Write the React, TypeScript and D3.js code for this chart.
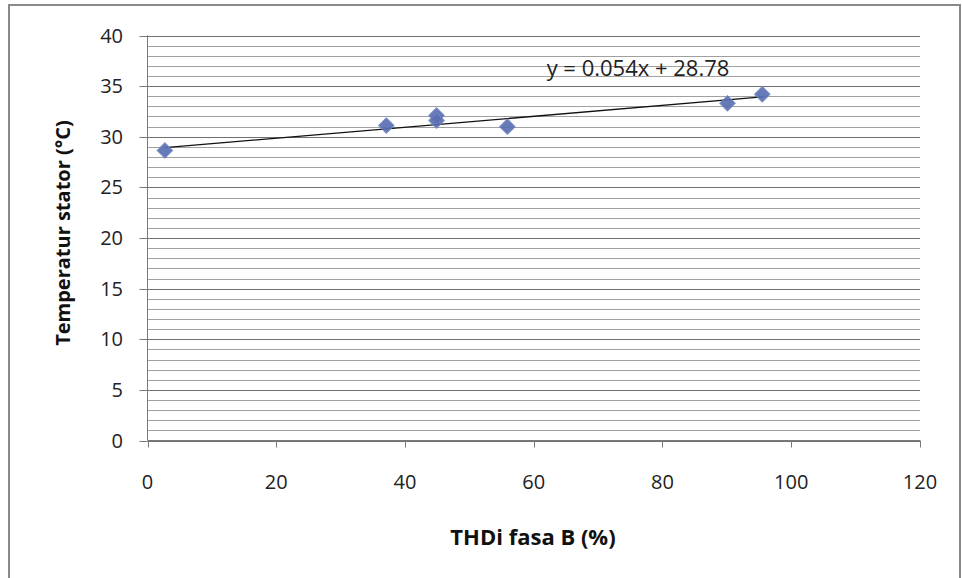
import React from "react";
import * as d3 from "d3";

const thdB: number[] = [2.7, 37.1, 44.9, 44.9, 55.9, 90.1, 95.5];
const tempStator: number[] = [28.65, 31.1, 32.1, 31.6, 31.0, 33.3, 34.2];
const xTicks: number[] = [0, 20, 40, 60, 80, 100, 120];
const yTicks: number[] = [0, 5, 10, 15, 20, 25, 30, 35, 40];
const slope = 0.054;
const intercept = 28.78;
const equationLabel = "y = 0.054x + 28.78";
const xTitle = "THDi fasa B (%)";
const yTitle = "Temperatur stator (°C)";

export default function App() {
  const W = 962, H = 578;
  const left = 147.5, right = 920, top = 35.5, bottom = 440.5;
  const x = d3.scaleLinear().domain([0, 120]).range([left, right]);
  const y = d3.scaleLinear().domain([0, 40]).range([bottom, top]);
  const minor = d3.range(0, 41, 1);
  const font = "'Open Sans', 'Noto Sans', sans-serif";
  const xMin = d3.min(thdB) as number;
  const xMax = d3.max(thdB) as number;
  const line = d3.line<number>().x((d) => x(d)).y((d) => y(slope * d + intercept));
  const marker = d3.symbol().type(d3.symbolSquare).size(120)();

  return (
    <svg width={W} height={H} style={{ position: "absolute", left: 0, top: 0, background: "#fff" }}>
      <rect x={9} y={5} width={951} height={H} fill="#fff" stroke="#8a8a8a" strokeWidth={2} />
      {minor.map((v) => (
        <line key={v} x1={left} x2={right} y1={Math.round(y(v)) + 0.5} y2={Math.round(y(v)) + 0.5}
          stroke={v % 5 === 0 ? "#707070" : "#a0a0a0"} strokeWidth={1} />
      ))}
      <line x1={left} x2={left} y1={top} y2={bottom} stroke="#7a7a7a" strokeWidth={1} />
      <line x1={left} x2={right} y1={bottom} y2={bottom} stroke="#7a7a7a" strokeWidth={1} />
      {yTicks.map((v) => (
        <g key={v}>
          <line x1={left - 8} x2={left} y1={Math.round(y(v)) + 0.5} y2={Math.round(y(v)) + 0.5} stroke="#7a7a7a" />
          <text x={123} y={y(v)} dy="0.35em" textAnchor="end" fontFamily={font} fontSize={20} fill="#222">{v}</text>
        </g>
      ))}
      {xTicks.map((v) => (
        <g key={v}>
          <line x1={Math.round(x(v)) + 0.5} x2={Math.round(x(v)) + 0.5} y1={bottom} y2={bottom + 7} stroke="#7a7a7a" />
          <text x={x(v)} y={482} dy="0.35em" textAnchor="middle" fontFamily={font} fontSize={20} fill="#222">{v}</text>
        </g>
      ))}
      <path d={line([xMin, xMax]) || ""} fill="none" stroke="#111" strokeWidth={1.3} />
      {thdB.map((v, i) => (
        <path key={i} d={marker || ""} transform={`translate(${x(v)},${y(tempStator[i])}) rotate(45)`}
          fill="#5a6fb2" stroke="#7085c0" strokeWidth={1} opacity={0.92} />
      ))}
      <text x={638} y={68} dy="0.35em" textAnchor="middle" fontFamily={font} fontSize={22} fill="#222">{equationLabel}</text>
      <text x={533} y={537} dy="0.35em" textAnchor="middle" fontFamily={font} fontSize={22} fontWeight="bold" fill="#111">{xTitle}</text>
      <text transform={`translate(63,233) rotate(-90)`} dy="0.35em" textAnchor="middle" fontFamily={font} fontSize={20} fontWeight="bold" fill="#111">{yTitle}</text>
    </svg>
  );
}
